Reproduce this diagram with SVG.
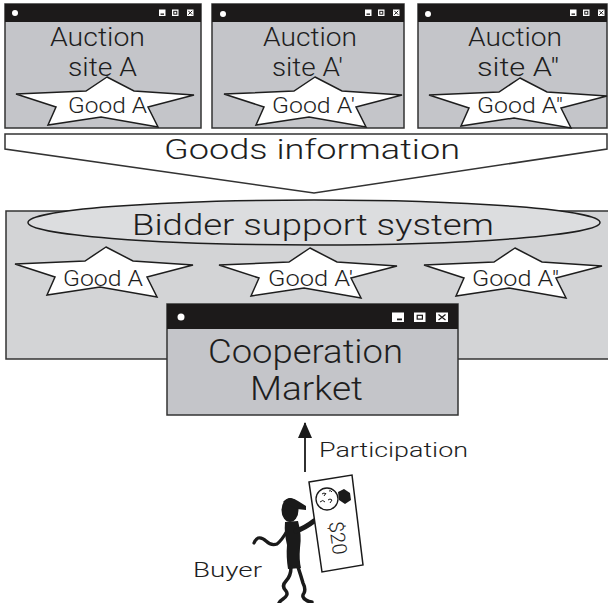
<svg xmlns="http://www.w3.org/2000/svg" xmlns:xlink="http://www.w3.org/1999/xlink" width="608" height="603" viewBox="0 0 608 603">
  <style>
    text { font-family: Roboto, "Liberation Sans", Arial, sans-serif; font-weight: 300; fill: #1e1e1e; }
    .win { fill: #c4c5c9; stroke: #333; stroke-width: 1.5; }
    .bar { fill: #1c1a1a; }
    .dot { fill: #fff; }
    .btn { fill: #fff; }
    .ico { fill: none; stroke: #1c1a1a; stroke-width: 1.2; }
    .sico { fill: none; stroke: #1c1a1a; stroke-width: 1; }
    .star { fill: #fff; stroke: #1e1e1e; stroke-width: 1.5; stroke-linejoin: miter; }
    .title { font-size: 28px; }
    .site { font-size: 25.5px; }
    .good { font-size: 22px; }
    .ink { fill: #1a1a1a; }
    .limb { fill: none; stroke: #1a1a1a; stroke-linecap: round; stroke-linejoin: round; }
  </style>
  <defs>
    <!-- five-pointed star, origin at the top point -->
    <path id="star" class="star" d="M0,0 L27,14 L87,18 L41,30 L51,50 L-6,40 L-59,48 L-51,30 L-91,17 L-21,14 Z"/>
    <!-- small title-bar buttons: minimise, maximise, close -->
    <g id="btns">
      <rect class="btn" x="0" y="0" width="6.5" height="6.5"/>
      <rect x="1.5" y="4" width="3.5" height="1.3" fill="#1c1a1a"/>
      <rect class="btn" x="13" y="0" width="6.5" height="6.5"/>
      <rect class="sico" x="14.8" y="1.8" width="3" height="2.9"/>
      <rect class="btn" x="28" y="0" width="6.5" height="6.5"/>
      <path class="sico" d="M29.3,1.3 L33.2,5.2 M33.2,1.3 L29.3,5.2"/>
    </g>
    <marker id="head" markerWidth="16" markerHeight="14" refX="15" refY="7" orient="auto" markerUnits="userSpaceOnUse" viewBox="0 0 16 14">
      <path d="M0,0 L16,7 L0,14 Z" fill="#1a1a1a"/>
    </marker>
  </defs>

  <rect width="608" height="603" fill="#fff"/>

  <!-- auction site windows -->
  <g id="site-a">
    <rect class="win" x="5" y="4" width="196" height="124"/>
    <rect class="bar" x="5" y="4" width="196" height="18"/>
    <circle class="dot" cx="15" cy="13" r="3"/>
    <use href="#btns" x="159" y="9.5"/>
    <text class="site"><tspan x="50" y="46" textLength="95" lengthAdjust="spacingAndGlyphs">Auction</tspan><tspan x="68" y="76" textLength="69" lengthAdjust="spacingAndGlyphs">site A</tspan></text>
    <use href="#star" x="107" y="77"/>
    <text class="good" x="68" y="113" textLength="79" lengthAdjust="spacingAndGlyphs">Good A</text>
  </g>

  <g id="site-a1">
    <rect class="win" x="212" y="4" width="192" height="124"/>
    <rect class="bar" x="212" y="4" width="192" height="18"/>
    <circle class="dot" cx="223" cy="14" r="3"/>
    <use href="#btns" x="365" y="9.5"/>
    <text class="site"><tspan x="263" y="46" textLength="94" lengthAdjust="spacingAndGlyphs">Auction</tspan><tspan x="272" y="76" textLength="71" lengthAdjust="spacingAndGlyphs">site A'</tspan></text>
    <use href="#star" x="315" y="77"/>
    <text class="good" x="272" y="113" textLength="83" lengthAdjust="spacingAndGlyphs">Good A'</text>
  </g>

  <g id="site-a2">
    <rect class="win" x="418" y="4" width="189" height="124"/>
    <rect class="bar" x="418" y="4" width="189" height="18"/>
    <circle class="dot" cx="428" cy="14" r="3"/>
    <use href="#btns" x="570" y="9.5"/>
    <text class="site"><tspan x="468" y="46" textLength="94" lengthAdjust="spacingAndGlyphs">Auction</tspan><tspan x="477" y="76" textLength="82" lengthAdjust="spacingAndGlyphs">site A"</tspan></text>
    <use href="#star" x="520" y="78"/>
    <text class="good" x="477" y="113" textLength="86" lengthAdjust="spacingAndGlyphs">Good A"</text>
  </g>

  <!-- broad arrow carrying goods information downwards -->
  <g id="goods-information">
    <polygon points="5,134 607,134 607,149 314,193 5,149" fill="#fff" stroke="#333" stroke-width="1.5"/>
    <text class="title" x="164" y="159" textLength="296" lengthAdjust="spacingAndGlyphs">Goods information</text>
  </g>

  <!-- bidder support system panel -->
  <g id="bidder-support-system">
    <rect x="6" y="211" width="610" height="148" fill="#d3d4d6" stroke="#333" stroke-width="1.5"/>
    <ellipse cx="314" cy="222.5" rx="286" ry="22.5" fill="#dcdddf" stroke="#1e1e1e" stroke-width="1.5"/>
    <text x="132" y="235" font-size="30" textLength="362" lengthAdjust="spacingAndGlyphs">Bidder support system</text>
    <use href="#star" x="106" y="247"/>
    <text class="good" x="63" y="286" textLength="80" lengthAdjust="spacingAndGlyphs">Good A</text>
    <use href="#star" x="310" y="248"/>
    <text class="good" x="268" y="286" textLength="85" lengthAdjust="spacingAndGlyphs">Good A'</text>
    <use href="#star" x="515" y="248"/>
    <text class="good" x="472" y="286" textLength="87" lengthAdjust="spacingAndGlyphs">Good A"</text>
  </g>

  <!-- cooperation market window -->
  <g id="cooperation-market">
    <rect class="win" x="167" y="304" width="291" height="111"/>
    <rect class="bar" x="167" y="304" width="291" height="25"/>
    <circle class="dot" cx="181" cy="317" r="3.5"/>
    <rect class="btn" x="392" y="312.5" width="12" height="9.5"/>
    <rect x="397" y="318.5" width="5" height="1.8" fill="#1c1a1a"/>
    <rect class="btn" x="414" y="312.5" width="11.5" height="9.5"/>
    <rect class="ico" x="417.2" y="315.3" width="5.2" height="3.8"/>
    <rect class="btn" x="436" y="312.5" width="12" height="9.5"/>
    <path class="ico" d="M438.5,314.5 L445.5,320 M445.5,314.5 L438.5,320" stroke-width="1.6"/>
    <text font-size="34"><tspan x="208" y="363" textLength="195" lengthAdjust="spacingAndGlyphs">Cooperation</tspan><tspan x="250" y="400" textLength="113" lengthAdjust="spacingAndGlyphs">Market</tspan></text>
  </g>

  <!-- connectors -->
  <g id="connectors">
    <line x1="305" y1="472" x2="305" y2="423" stroke="#1a1a1a" stroke-width="1.8" marker-end="url(#head)"/>
    <text x="319" y="457" font-size="21" textLength="149" lengthAdjust="spacingAndGlyphs">Participation</text>
  </g>

  <!-- buyer holding a banknote -->
  <g id="buyer">
    <!-- head and cap -->
    <ellipse class="ink" cx="290" cy="510" rx="8.5" ry="12"/>
    <path class="ink" d="M283,502 Q290,495 298,501 L306,506 L306,510 L297,509 Z"/>
    <!-- torso -->
    <path class="ink" d="M285,522 L298,521 Q302,535 300,548 Q299,560 301,568 L288,569 Q286,556 287,545 Q284,533 285,522 Z"/>
    <!-- arm reaching to the note -->
    <path class="limb" d="M296,531 Q305,528 314,521" stroke-width="5"/>
    <!-- waving arm -->
    <path class="limb" d="M287,531 Q282,540 277,544 Q271,546 266,541 Q262,537 258,538 Q255,540 254,543" stroke-width="3.2"/>
    <!-- legs -->
    <path class="limb" d="M291,567 Q291,576 286,581 Q281,586 286,591 Q289,595 283,599 Q280,601 279,603" stroke-width="3.5"/>
    <path class="limb" d="M298,567 Q301,576 303,583 Q306,589 304,593 Q301,597 306,600 Q309,602 312,602" stroke-width="3.5"/>
    <!-- banknote -->
    <polygon points="309,482 352,475 363,565 322,572" fill="#fff" stroke="#1a1a1a" stroke-width="1.5"/>
    <circle cx="327" cy="499" r="11" fill="#fff" stroke="#1a1a1a" stroke-width="1.3"/>
    <path d="M322,494 q2,-2 4,0 M324,496 l2,-3 M329,491 q2,-1 3,1 M320,502 q3,-3 5,0 M328,500 q2,-2 4,0 M330,503 l2,-3" fill="none" stroke="#1a1a1a" stroke-width="1"/>
    <path class="ink" d="M338,492 L344,489 L350,493 L351,500 L345,504 L339,500 Z"/>
    <text x="338" y="538" font-size="20" text-anchor="middle" dominant-baseline="central" transform="rotate(82 338 538)">$20</text>
    <text x="193" y="577" font-size="21" textLength="69" lengthAdjust="spacingAndGlyphs">Buyer</text>
  </g>
</svg>
